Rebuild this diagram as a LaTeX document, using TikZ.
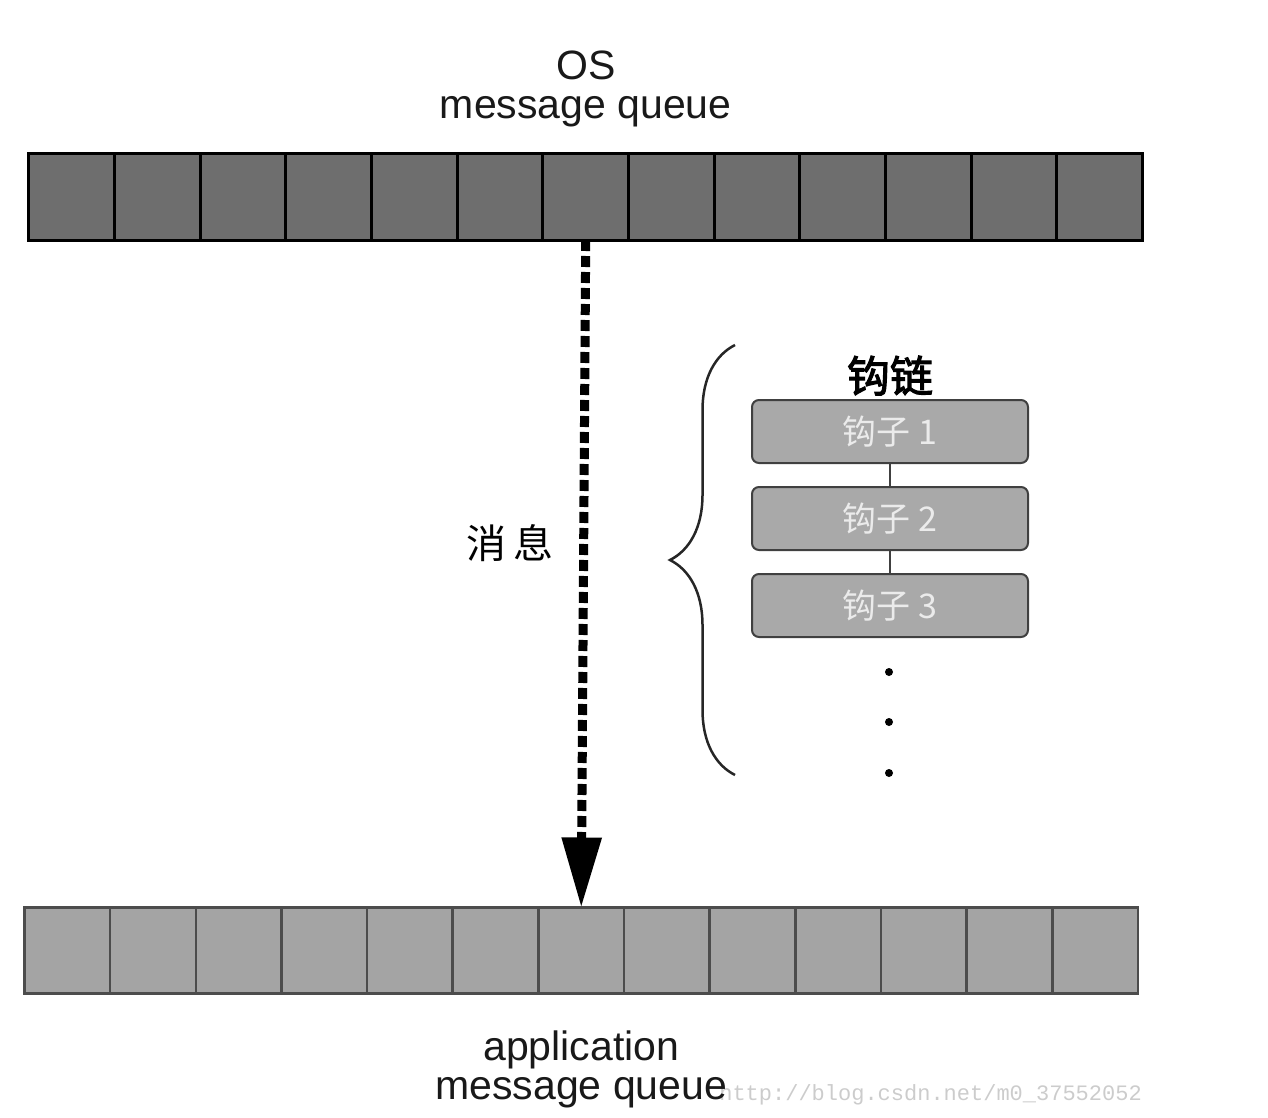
\documentclass[tikz,border=0pt]{standalone}
\usepackage{fontspec}
\setmainfont{Liberation Sans}
\newfontfamily\cjkfont{Noto Sans CJK SC}
\newfontfamily\cjkboldfont{Noto Sans CJK SC}[FakeBold=2.5]
\newfontfamily\wmfont{Liberation Mono}
\usepackage{xcolor}
\usetikzlibrary{matrix}
\usetikzlibrary{positioning}
\usetikzlibrary{arrows.meta}
\usetikzlibrary{decorations.pathreplacing}
\definecolor{osgray}{HTML}{6E6E6E}
\definecolor{appgray}{HTML}{A4A4A4}
\definecolor{hookgray}{HTML}{A9A9A9}
\tikzset{
queue/.style={
  matrix of nodes,
  inner sep=0pt,
  row sep=-\pgflinewidth,
  column sep=-\pgflinewidth,
  nodes={rectangle,draw,minimum width=85.65pt,minimum height=86pt,inner sep=0pt,outer sep=0pt},
  nodes in empty cells
},
qlabel/.style={align=center,text=black!90,font=\fontsize{41}{39}\selectfont},
hookbox/.style={rectangle,rounded corners=7pt,draw=black!75,line width=2pt,fill=hookgray,
  minimum width=276pt,minimum height=63pt,text=white!92!black,font=\cjkfont\fontsize{34}{34}\selectfont},
msgarrow/.style={line width=9pt,dash pattern=on 11pt off 5pt,-{Triangle[width=38pt,length=70pt]}},
hookdot/.style={circle,fill=black,minimum size=8pt,inner sep=0pt},
}

\begin{document}
\begin{tikzpicture}[x=1pt,y=-1pt]
\useasboundingbox (0,0) rectangle (1268,1118);
\node (wm) [anchor=base east,inner sep=0pt,text=black!20,font=\wmfont\fontsize{22}{22}\selectfont] at (1142,1100) {http://blog.csdn.net/m0\_37552052};
% the two queues
\matrix (osq) [queue,line width=3pt,anchor=north west,nodes={fill=osgray}] at (26,151)
{
 & & & & & & & & & & & & \\
};
\matrix (appq) [queue,line width=2.5pt,anchor=north west,nodes={fill=appgray,draw=black!70}] at (22,905)
{
 & & & & & & & & & & & & \\
};
\node[qlabel,above=20pt of osq] (oslabel) {OS\\message queue};
\node[qlabel,below=31pt of appq] (applabel) {application\\message queue};
% the message
\draw[msgarrow] (osq-1-7.south) -- (appq-1-7.north);
\node[font=\cjkfont\fontsize{40}{40}\selectfont] (msg) at (510,543) {消\,息};
% the hook chain
\node[hookbox] (hk1) at (890,431.5) {钩子 1};
\node[hookbox,below=22pt of hk1] (hk2) {钩子 2};
\node[hookbox,below=22pt of hk2] (hk3) {钩子 3};
\node[above=0pt of hk1,font=\cjkboldfont\fontsize{43}{43}\selectfont] (chain) {钩链};
\draw[line width=2pt,black!75] (hk1) -- (hk2);
\draw[line width=2pt,black!75] (hk2) -- (hk3);
\foreach \i/\y in {1/672,2/722,3/773}
  \node[hookdot] (dot\i) at (889,\y) {};
% the brace
\coordinate (brtop) at (735,345);
\coordinate (brbot) at (735,775);
\draw[line width=2.5pt,black!85,decorate,decoration={brace,amplitude=65pt}] (brbot) -- (brtop);
\end{tikzpicture}
\end{document}
